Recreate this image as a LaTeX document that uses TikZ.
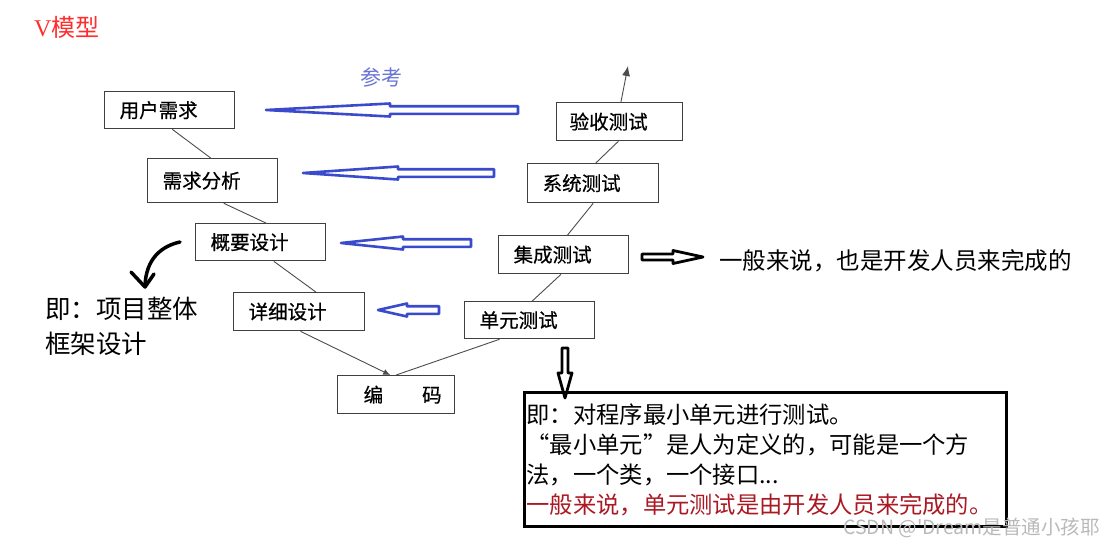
\documentclass[tikz,border=0pt]{standalone}
\usepackage{fontspec}
\setmainfont{Liberation Serif}
\newfontfamily\cjk{Noto Sans CJK SC}
\newfontfamily\cjkbox{Noto Sans CJK SC}[FakeBold=0.6]
\usetikzlibrary{calc,arrows.meta}
\definecolor{arrowblue}{RGB}{58,74,205}
\definecolor{refblue}{RGB}{105,115,215}
\definecolor{vred}{RGB}{255,45,45}
\definecolor{darkred}{RGB}{170,25,35}
% horizontal hollow arrow: tip x, y, head-back x, tail x, head half, shaft half
\newcommand\hollowH[6]{%
  (#1,#2) -- (#3,{#2-#5}) -- (#3,{#2-#6}) -- (#4,{#2-#6}) -- (#4,{#2+#6}) -- (#3,{#2+#6}) -- (#3,{#2+#5}) -- cycle}
% vertical hollow arrow: x, tip y, head-back y, tail y, head half, shaft half
\newcommand\hollowV[6]{%
  (#1,#2) -- ({#1-#5},#3) -- ({#1-#6},#3) -- ({#1-#6},#4) -- ({#1+#6},#4) -- ({#1+#6},#3) -- ({#1+#5},#3) -- cycle}
\begin{document}
\begin{tikzpicture}[x=1pt,y=-1pt,
  box/.style={draw=black!75, line width=1.3pt, fill=white, inner xsep=15pt, inner ysep=0pt,
    anchor=north west, align=left, font=\cjkbox\fontsize{19.5}{21}\selectfont},
  link/.style={draw=black!70, line width=0.9pt},
  blueA/.style={draw=arrowblue, line width=2.6pt, fill=white, line join=round},
  blackA/.style={draw=black, line width=2.8pt, fill=white, line join=round},
]
\useasboundingbox (0,0) rectangle (1108,547);

% left branch
\node[box, text width=100pt, minimum height=37pt] (ur) at (104,91) {用户需求};
\node[box, text width=100pt, minimum height=44pt] (xq) at (147,158) {需求分析};
\node[box, text width=100pt, minimum height=37pt] (gy) at (195,223) {概要设计};
\node[box, text width=101pt, minimum height=38pt] (xx) at (233,292) {详细设计};
\node[box, text width=95pt, inner xsep=11pt, minimum height=38pt] (bm) at (337,375) {\hspace*{15pt}编\hspace{39pt}码};
% right branch
\node[box, text width=100pt, minimum height=38pt, inner xsep=13pt] (ys) at (556,102) {验收测试};
\node[box, text width=101pt, minimum height=39pt] (xt) at (527,163) {系统测试};
\node[box, text width=100pt, minimum height=38pt] (jc) at (498,235) {集成测试};
\node[box, text width=100pt, minimum height=37pt] (dy) at (464,301) {单元测试};
\coordinate (top) at (628,66);

% connectors
\draw[link] ($(ur.south west)!.52!(ur.south east)$) -- ($(xq.north west)!.485!(xq.north east)$);
\draw[link] ($(xq.south west)!.585!(xq.south east)$) -- ($(gy.north west)!.54!(gy.north east)$);
\draw[link] ($(gy.south west)!.6!(gy.south east)$) -- ($(xx.north west)!.626!(xx.north east)$);
\draw[link, -{Latex[length=7pt,width=6pt]}] ($(xx.south west)!.51!(xx.south east)$) -- ($(bm.north west)!.45!(bm.north east)$);
\draw[link] ($(dy.south west)!.27!(dy.south east)$) -- ($(bm.north west)!.5!(bm.north east)$);
\draw[link] ($(dy.north west)!.52!(dy.north east)$) -- ($(jc.south west)!.48!(jc.south east)$);
\draw[link] ($(jc.north west)!.53!(jc.north east)$) -- ($(xt.south west)!.5!(xt.south east)$);
\draw[link] ($(xt.north west)!.52!(xt.north east)$) -- ($(ys.south west)!.49!(ys.south east)$);
\draw[link, -{Latex[length=10pt,width=8pt]}] ($(ys.north west)!.51!(ys.north east)$) -- (top);

% blue hollow arrows (reference)
\draw[blueA] \hollowH{266}{110}{390}{518}{6.5}{3.8};
\draw[blueA] \hollowH{303}{173}{398}{494}{6.5}{3.8};
\draw[blueA] \hollowH{341}{243}{403}{471}{6.5}{3.8};
\draw[blueA] \hollowH{378}{310}{407}{439}{6.5}{3.8};

% black hollow arrows
\draw[blackA] \hollowH{703}{257}{673}{642}{6.5}{3};
\draw[blackA] \hollowV{565}{398}{373}{348}{7}{3};

% curved arrow
\draw[line width=3.5pt, line cap=round] (180,242) .. controls (162,246) and (146,258) .. (145,286);
\draw[line width=3.5pt, line cap=round, line join=round] (131,272) -- (145,287) -- (154,274);

% texts
\node[anchor=west, inner sep=0, text=vred, font=\fontsize{24}{26}\selectfont] (title) at (34,27) {V\cjk 模型};
\node[inner sep=0, text=refblue, font=\cjk\fontsize{21}{23}\selectfont] (ck) at (381,77) {参考};
\node[anchor=west, inner sep=0, font=\cjk\fontsize{23.5}{25}\selectfont] (note1) at (719,261) {一般来说，也是开发人员来完成的};
\node[anchor=north west, inner sep=0, align=left, font=\cjk\fontsize{25.5}{35}\selectfont] (note2) at (45,297) {即：项目整体\\框架设计};

\node[draw, line width=3pt, anchor=north west, minimum width=482pt, minimum height=134pt,
  text width=478pt, inner xsep=2pt, inner ysep=0pt, align=left,
  font=\cjk\fontsize{23.3}{30}\selectfont] (bx) at (523,391)
  {即：对程序最小单元进行测试。\\
   “最小单元”是人为定义的，可能是一个方\\
   法，一个类，一个接口...\\
   \textcolor{darkred}{一般来说，单元测试是由开发人员来完成的。}};

\node[anchor=east, inner sep=0, text=gray!55, font=\cjk\fontsize{19.5}{20}\selectfont] (wm) at (1100,528) {CSDN @'Dream是普通小孩耶};
\end{tikzpicture}
\end{document}
